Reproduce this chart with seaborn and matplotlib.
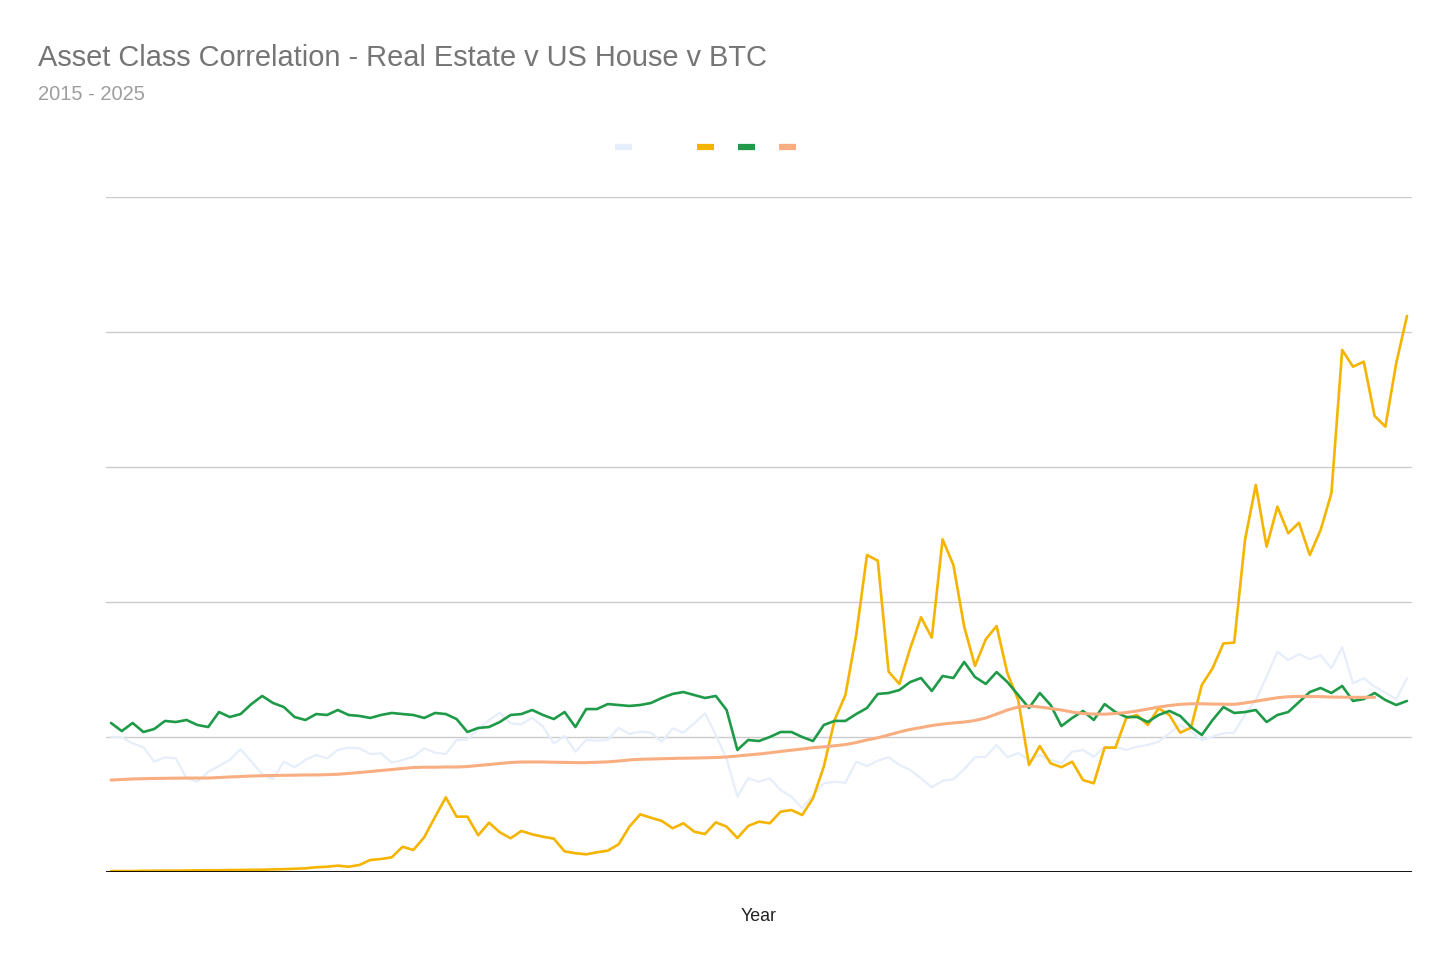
import numpy as np
import pandas as pd
import seaborn as sns
import matplotlib.pyplot as plt
from matplotlib.lines import Line2D

# ── Plot settings ─────────────────────────────────────────────────────────────
sns.set_style("white")
plt.rcParams["font.family"] = ["Liberation Sans", "DejaVu Sans"]

# ── Data (monthly, Jan 2015 - Jan 2025, indexed units) ───────────────────────
months = pd.date_range("2015-01-01", periods=121, freq="MS")

light_blue = [
    100.2, 99.8, 95.3, 92.4, 81.7, 85.0, 84.2, 69.4, 66.9, 74.3,
    78.5, 83.0, 90.9, 81.7, 72.6, 68.7, 81.7, 77.6, 83.0, 86.7,
    84.2, 90.4, 92.1, 91.6, 87.4, 87.9, 81.0, 83.0, 85.4, 91.6,
    88.4, 87.4, 97.8, 98.3, 105.7, 112.6, 118.0, 110.1, 109.4, 114.3,
    107.6, 95.3, 100.7, 89.1, 97.8, 97.3, 97.8, 106.9, 102.2, 103.9,
    103.2, 96.5, 106.4, 103.2, 110.1, 117.6, 101.5, 83.7, 55.8, 69.4,
    66.9, 69.4, 60.7, 55.8, 47.2, 57.0, 65.7, 66.9, 66.1, 81.7,
    78.5, 82.4, 85.0, 79.3, 75.6, 69.4, 62.7, 67.6, 68.7, 76.1,
    85.0, 85.4, 94.1, 85.0, 88.1, 83.0, 86.7, 83.0, 80.5, 89.1,
    90.4, 85.4, 92.8, 92.8, 90.4, 92.8, 94.1, 96.5, 102.7, 108.9,
    104.4, 97.8, 100.4, 102.7, 103.2, 116.3, 127.4, 144.7, 163.2, 157.0,
    161.3, 157.6, 160.7, 150.9, 166.4, 139.8, 143.5, 137.3, 132.8, 127.9,
    143.5,
]

btc = [
    0.7, 0.7, 0.7, 0.9, 0.9, 1.0, 1.0, 1.1, 1.2, 1.3,
    1.3, 1.5, 1.5, 1.6, 1.7, 1.9, 2.1, 2.4, 2.7, 3.5,
    3.9, 4.7, 3.9, 5.2, 8.9, 9.6, 10.9, 18.7, 16.3, 25.7,
    40.7, 55.3, 41.0, 41.0, 27.2, 36.5, 29.4, 25.0, 30.4, 27.9,
    26.1, 24.7, 15.3, 13.9, 13.1, 14.6, 15.8, 20.5, 33.6, 42.7,
    40.2, 37.8, 32.4, 36.1, 29.9, 28.1, 36.8, 33.6, 25.2, 34.1,
    37.3, 36.1, 44.7, 45.9, 42.2, 54.6, 78.0, 112.6, 131.1, 175.6,
    234.8, 230.6, 148.4, 139.3, 165.7, 188.7, 173.6, 246.4, 227.4, 181.7,
    152.6, 172.4, 182.2, 147.2, 127.4, 79.3, 93.3, 80.5, 77.6, 81.7,
    68.1, 65.7, 92.1, 92.1, 113.9, 116.3, 108.9, 121.3, 116.3, 103.2,
    106.9, 138.5, 150.9, 169.3, 169.9, 245.9, 286.7, 241.0, 270.6, 250.9,
    258.7, 234.8, 253.3, 280.5, 386.7, 374.3, 378.0, 337.8, 329.9, 376.8,
    411.9,
]

real_estate = [
    110.4, 104.4, 110.4, 103.7, 105.9, 111.9, 111.1, 112.6, 108.9, 107.4,
    118.5, 114.8, 117.0, 124.4, 130.4, 125.2, 122.2, 114.8, 112.6, 117.0,
    116.3, 120.0, 116.3, 115.6, 114.1, 116.3, 117.8, 117.0, 116.3, 114.1,
    117.8, 117.0, 113.3, 103.7, 106.7, 107.4, 111.1, 116.3, 117.0, 120.0,
    116.3, 113.3, 118.5, 107.4, 120.7, 120.7, 124.4, 123.7, 123.0, 123.7,
    125.2, 128.9, 131.9, 133.3, 131.1, 128.9, 130.4, 120.0, 90.4, 97.8,
    97.0, 100.0, 103.7, 103.7, 100.0, 97.0, 108.9, 111.9, 111.9, 117.0,
    121.5, 131.9, 132.6, 134.8, 140.7, 143.7, 134.1, 145.2, 143.7, 155.6,
    144.4, 139.3, 148.1, 140.7, 131.1, 121.5, 132.6, 123.7, 108.1, 114.1,
    119.3, 112.6, 124.4, 118.5, 114.8, 114.8, 111.1, 116.3, 119.3, 115.6,
    107.4, 101.5, 112.6, 122.2, 117.8, 118.5, 120.0, 111.1, 116.3, 118.5,
    125.9, 133.3, 136.3, 132.6, 137.8, 126.7, 128.1, 132.6, 127.4, 123.7,
    126.7,
]

us_house = [
    68.1, 68.5, 68.9, 69.1, 69.3, 69.4, 69.5, 69.6, 69.6, 69.6,
    70.0, 70.4, 70.7, 71.1, 71.3, 71.5, 71.6, 71.7, 71.9, 71.9,
    72.1, 72.4, 73.0, 73.7, 74.4, 75.2, 75.9, 76.7, 77.4, 77.6,
    77.6, 77.8, 77.8, 78.1, 78.9, 79.6, 80.4, 81.1, 81.5, 81.5,
    81.5, 81.3, 81.2, 81.0, 81.0, 81.3, 81.6, 82.2, 83.0, 83.5,
    83.7, 83.9, 84.1, 84.3, 84.4, 84.6, 84.8, 85.2, 85.9, 86.7,
    87.4, 88.3, 89.3, 90.2, 91.1, 92.1, 92.7, 93.5, 94.4, 95.9,
    97.8, 99.4, 101.5, 103.7, 105.6, 107.0, 108.5, 109.6, 110.4, 111.1,
    112.2, 114.1, 117.0, 120.0, 122.2, 123.0, 122.2, 121.1, 120.0, 118.5,
    117.4, 117.0, 116.9, 117.4, 118.1, 119.3, 120.7, 122.2, 123.3, 124.2,
    124.6, 124.6, 124.4, 124.3, 124.2, 125.2, 126.5, 127.8, 129.1, 129.8,
    130.1, 130.0, 129.9, 129.6, 129.5, 129.4, 129.4, 129.4, np.nan, np.nan,
    np.nan,
]

series_names = ["Index", "BTC", "Real Estate", "US House"]
series_values = [light_blue, btc, real_estate, us_house]
series_colors = ["#e6eefb", "#f4b400", "#1e9a48", "#f8ae80"]
series_widths = [1.6, 1.9, 1.9, 2.2]

df = pd.DataFrame({"month": np.arange(len(months))})
for name, vals in zip(series_names, series_values):
    df[name] = vals

# ── Figure ───────────────────────────────────────────────────────────────────
fig = plt.figure(figsize=(14.56, 9.72), dpi=100)
ax = fig.add_axes([106 / 1456, 1 - 872 / 972, 1306 / 1456, 675 / 972])

for name, color, lw in zip(series_names, series_colors, series_widths):
    sns.lineplot(data=df, x="month", y=name, color=color, linewidth=lw,
                 ax=ax, legend=False)

ax.set_xlim(-0.463, 120.463)
ax.set_ylim(0, 500)
ax.set_yticks([100, 200, 300, 400, 500])
ax.set_yticklabels([])
ax.set_xticks([])
ax.tick_params(length=0)
ax.yaxis.grid(True, color="#cccccc", linewidth=1)
ax.set_axisbelow(True)
ax.axhline(0, color="#000000", linewidth=1.3, zorder=5)
for s in ax.spines.values():
    s.set_visible(False)
ax.set_xlabel("")
ax.set_ylabel("")

# Titles
fig.text(38 / 1456, 1 - 58 / 972, "Asset Class Correlation - Real Estate v US House v BTC",
         fontsize=20.9, color="#757575", ha="left", va="center")
fig.text(38 / 1456, 1 - 95 / 972, "2015 - 2025",
         fontsize=14.5, color="#9e9e9e", ha="left", va="center")
fig.text(759 / 1456, 1 - 916 / 972, "Year", fontsize=12.8, color="#222222",
         ha="center", va="center")

# Legend swatches (labels left blank as in the original)
legend_x = [615, 697, 738, 779]
for x0, color in zip(legend_x, series_colors):
    fig.add_artist(Line2D([x0 / 1456, (x0 + 17) / 1456], [1 - 147 / 972] * 2,
                          color=color, linewidth=4.5, solid_capstyle="butt",
                          transform=fig.transFigure))

fig.savefig("out.png", dpi=100)
